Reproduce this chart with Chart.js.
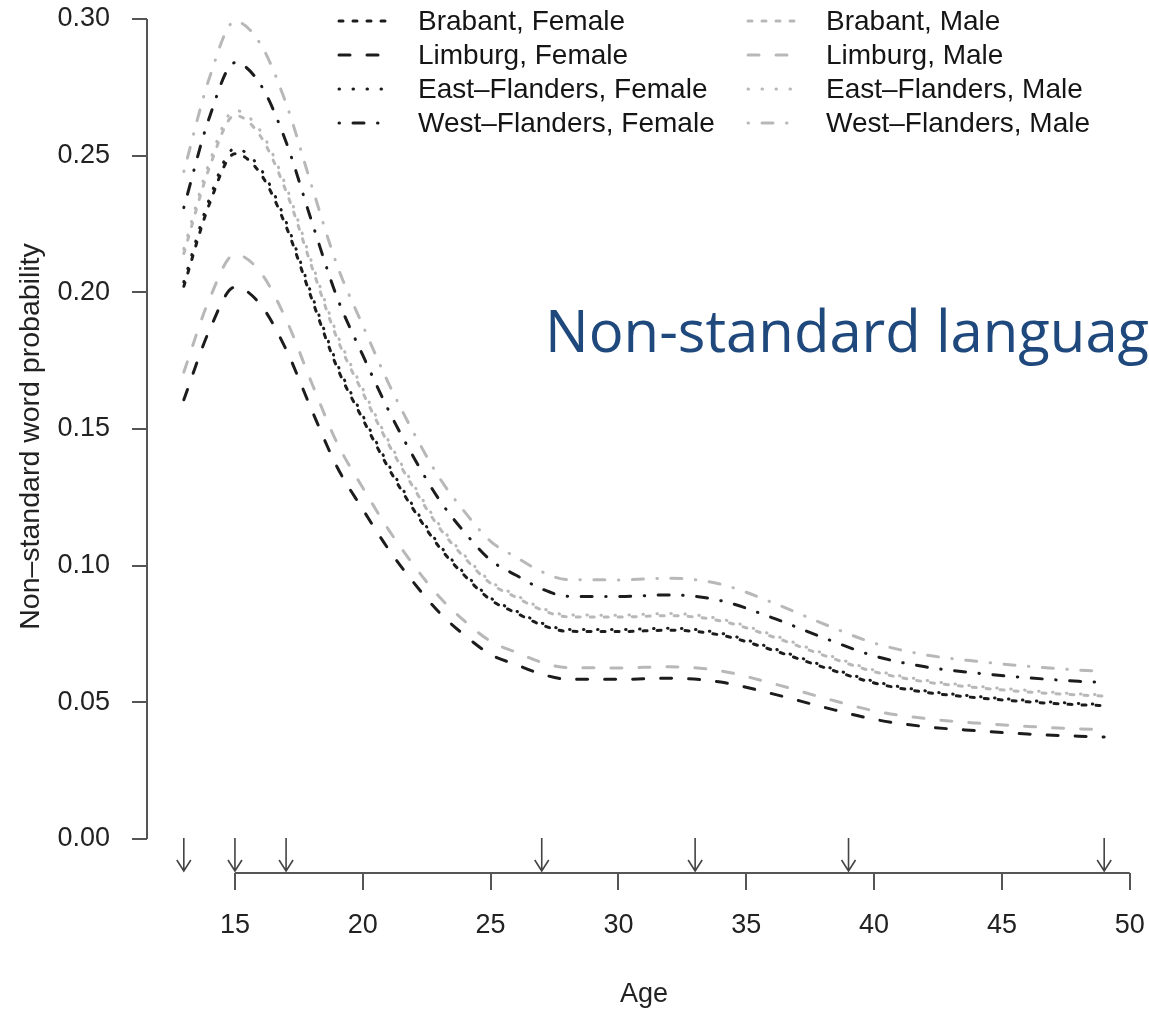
<!DOCTYPE html>
<html>
<head>
<meta charset="utf-8">
<script src="https://cdn.jsdelivr.net/npm/chart.js@4.4.1/dist/chart.umd.min.js"></script>
<style>
  html, body { margin: 0; padding: 0; background: #fff; }
  #wrap { position: relative; width: 1149px; height: 1011px; overflow: hidden; }
  #chart { position: absolute; left: 0; top: 0; }
  .leg { position: absolute; display: flex; align-items: center; height: 32px;
         font: 28px "Liberation Sans", Arial, Helvetica, sans-serif; color: #151515; white-space: nowrap; }
  .leg svg { flex: none; }
  #note { position: absolute; left: 545px; top: 301px; font: 58px/1 "Open Sans", sans-serif;
          color: #1f497d; white-space: nowrap; }
</style>
</head>
<body>
<div id="wrap">
  <canvas id="chart" width="1149" height="1011"></canvas>
  <div id="legend"></div>
  <div id="note">Non-standard languag</div>
</div>
<script>
const ages = [13, 14, 15, 16, 17, 18, 19, 20, 21, 22, 23, 24, 25, 26, 27, 28, 30, 32, 34, 36, 38, 40, 42, 44, 46, 48, 49];

const brabantF = [0.2022, 0.2323, 0.2507, 0.2434, 0.2241, 0.1977, 0.1724, 0.1536, 0.1358, 0.1203, 0.1067, 0.0962, 0.0875, 0.0827, 0.0783, 0.0760, 0.0759, 0.0764, 0.0746, 0.0692, 0.0629, 0.0571, 0.0537, 0.0517, 0.0502, 0.0491, 0.0488];
const limburgF = [0.1607, 0.1861, 0.2019, 0.1955, 0.1791, 0.1570, 0.1360, 0.1206, 0.1061, 0.0937, 0.0828, 0.0744, 0.0675, 0.0638, 0.0603, 0.0585, 0.0584, 0.0588, 0.0574, 0.0532, 0.0483, 0.0438, 0.0411, 0.0396, 0.0384, 0.0376, 0.0373];
const eastFlF = [0.2038, 0.2341, 0.2526, 0.2452, 0.2258, 0.1992, 0.1738, 0.1549, 0.1370, 0.1214, 0.1076, 0.0970, 0.0882, 0.0834, 0.0790, 0.0767, 0.0766, 0.0771, 0.0753, 0.0699, 0.0635, 0.0577, 0.0542, 0.0522, 0.0507, 0.0496, 0.0492];
const westFlF = [0.2310, 0.2640, 0.2840, 0.2760, 0.2550, 0.2260, 0.1980, 0.1770, 0.1570, 0.1395, 0.1240, 0.1120, 0.1020, 0.0965, 0.0915, 0.0888, 0.0887, 0.0893, 0.0872, 0.0810, 0.0737, 0.0670, 0.0630, 0.0607, 0.0590, 0.0577, 0.0573];
const brabantM = [0.2142, 0.2456, 0.2647, 0.2571, 0.2370, 0.2095, 0.1830, 0.1633, 0.1446, 0.1283, 0.1138, 0.1027, 0.0935, 0.0884, 0.0838, 0.0813, 0.0812, 0.0817, 0.0798, 0.0741, 0.0673, 0.0612, 0.0575, 0.0554, 0.0538, 0.0527, 0.0523];
const limburgM = [0.1708, 0.1975, 0.2139, 0.2073, 0.1901, 0.1669, 0.1448, 0.1285, 0.1133, 0.1001, 0.0885, 0.0796, 0.0723, 0.0683, 0.0646, 0.0627, 0.0626, 0.0630, 0.0615, 0.0570, 0.0517, 0.0469, 0.0441, 0.0424, 0.0412, 0.0403, 0.0400];
const eastFlM = [0.2159, 0.2475, 0.2666, 0.2590, 0.2388, 0.2111, 0.1846, 0.1647, 0.1458, 0.1294, 0.1149, 0.1036, 0.0943, 0.0892, 0.0845, 0.0820, 0.0819, 0.0825, 0.0805, 0.0748, 0.0680, 0.0618, 0.0581, 0.0559, 0.0544, 0.0531, 0.0528];
const westFlM = [0.2442, 0.2784, 0.2991, 0.2908, 0.2691, 0.2390, 0.2098, 0.1879, 0.1669, 0.1485, 0.1321, 0.1195, 0.1089, 0.1031, 0.0978, 0.0949, 0.0948, 0.0954, 0.0932, 0.0866, 0.0788, 0.0717, 0.0674, 0.0650, 0.0632, 0.0618, 0.0614];

const xTicks = [15, 20, 25, 30, 35, 40, 45, 50];
const yTicks = [0, 0.05, 0.10, 0.15, 0.20, 0.25, 0.30];
const arrowAges = [13, 15, 17, 27, 33, 39, 49];

const black = "#1c1c1c";
const grey = "#b8b8b8";
const axisColor = "#555";
const font = '"Liberation Sans", Arial, Helvetica, sans-serif';

// R-like line types (round caps, lwd 3)
const dashes = {
  brabant: [4, 10],
  limburg: [11, 17],
  east: [0.5, 13.5],
  west: [0.5, 13.5, 11, 13.5]
};

const series = [
  { label: "Brabant, Female", data: brabantF, color: black, dash: dashes.brabant },
  { label: "Limburg, Female", data: limburgF, color: black, dash: dashes.limburg },
  { label: "East\u2013Flanders, Female", data: eastFlF, color: black, dash: dashes.east },
  { label: "West\u2013Flanders, Female", data: westFlF, color: black, dash: dashes.west },
  { label: "Brabant, Male", data: brabantM, color: grey, dash: dashes.brabant },
  { label: "Limburg, Male", data: limburgM, color: grey, dash: dashes.limburg },
  { label: "East\u2013Flanders, Male", data: eastFlM, color: grey, dash: dashes.east },
  { label: "West\u2013Flanders, Male", data: westFlM, color: grey, dash: dashes.west }
];

// legend in two columns, like the R one
const legendDiv = document.getElementById("legend");
series.forEach((s, i) => {
  const col = Math.floor(i / 4), row = i % 4;
  const item = document.createElement("div");
  item.className = "leg";
  item.style.left = (col === 0 ? 337 : 746) + "px";
  item.style.top = (5 + row * 34) + "px";
  item.innerHTML = `
    <svg width="54" height="8"><line x1="2" y1="4" x2="52" y2="4" stroke="${s.color}" stroke-width="3"
      stroke-linecap="round" stroke-dasharray="${s.dash.join(" ")}"/></svg>
    <span style="margin-left:${col === 0 ? 27 : 26}px">${s.label}</span>
  `;
  legendDiv.appendChild(item);
});

// axis lines (only over tick range) and the arrows under the curves
const rAxes = {
  id: "rAxes",
  afterDraw(chart) {
    const { ctx, chartArea, scales: { x, y } } = chart;
    ctx.save();
    ctx.strokeStyle = axisColor;
    ctx.lineWidth = 2;
    ctx.beginPath();
    ctx.moveTo(chartArea.left, y.getPixelForValue(yTicks[0]));
    ctx.lineTo(chartArea.left, y.getPixelForValue(yTicks[yTicks.length - 1]));
    ctx.moveTo(x.getPixelForValue(xTicks[0]), chartArea.bottom);
    ctx.lineTo(x.getPixelForValue(xTicks[xTicks.length - 1]), chartArea.bottom);
    ctx.stroke();

    ctx.strokeStyle = "#444";
    ctx.lineWidth = 1.6;
    arrowAges.forEach(a => {
      const px = x.getPixelForValue(a);
      const tip = chartArea.bottom - 2;
      ctx.beginPath();
      ctx.moveTo(px, tip - 33);
      ctx.lineTo(px, tip);
      ctx.moveTo(px - 7, tip - 11);
      ctx.lineTo(px, tip);
      ctx.lineTo(px + 7, tip - 11);
      ctx.stroke();
    });
    ctx.restore();
  }
};

// no overhang padding, so the plot area sits where R put it
const noPad = s => {
  s.paddingTop = 0;
  s.paddingBottom = 0;
  s.paddingLeft = 0;
  s.paddingRight = 0;
};

Chart.defaults.font.family = font;
Chart.defaults.font.size = 27;
Chart.defaults.color = "#222";

new Chart(document.getElementById("chart"), {
  type: "line",
  data: {
    datasets: series.map(s => ({
      label: s.label,
      data: ages.map((a, i) => ({ x: a, y: s.data[i] })),
      borderColor: s.color,
      borderWidth: 3,
      borderDash: s.dash,
      borderCapStyle: "round",
      pointRadius: 0,
      fill: false,
      cubicInterpolationMode: "monotone"
    }))
  },
  options: {
    responsive: false,
    animation: false,
    devicePixelRatio: 1,
    layout: { padding: { left: 0, right: 8, top: 0, bottom: 0 } },
    plugins: { legend: { display: false }, tooltip: { enabled: false } },
    scales: {
      x: {
        type: "linear",
        min: 11.56,
        max: 50.44,
        afterBuildTicks: s => { s.ticks = xTicks.map(v => ({ value: v })); },
        afterFit: s => { s.height = 138; noPad(s); },
        border: { display: false },
        grid: { drawOnChartArea: false, drawTicks: true, tickLength: 17, color: axisColor, lineWidth: 2 },
        ticks: { padding: 19, color: "#222", maxRotation: 0 },
        title: { display: true, text: "Age", color: "#222", padding: { top: 0, bottom: 0 } }
      },
      y: {
        min: -0.01244,
        max: 0.30695,
        afterBuildTicks: s => { s.ticks = yTicks.map(v => ({ value: v })); },
        afterFit: s => { s.width = 147; noPad(s); },
        border: { display: false },
        grid: { drawOnChartArea: false, drawTicks: true, tickLength: 15, color: axisColor, lineWidth: 2 },
        ticks: { padding: 22, color: "#222", callback: v => v.toFixed(2) },
        title: {
          display: true, text: "Non\u2013standard word probability", color: "#222",
          font: { size: 28.5 }, padding: { top: 14, bottom: 0 }
        }
      }
    }
  },
  plugins: [rAxes]
});
</script>
</body>
</html>
